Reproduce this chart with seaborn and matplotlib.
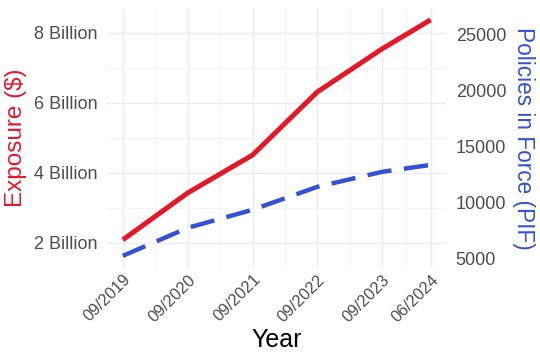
import matplotlib
matplotlib.use("Agg")
import matplotlib.pyplot as plt
import matplotlib.dates as mdates
import matplotlib.transforms as mtransforms
from matplotlib.ticker import FixedLocator, FuncFormatter
import seaborn as sns
import pandas as pd
import numpy as np

# ---- data ----
period_labels = ["09/2019", "09/2020", "09/2021", "09/2022", "09/2023", "06/2024"]
exposure_billion = [2.09, 3.43, 4.51, 6.31, 7.54, 8.37]
policies_in_force = [5270, 7770, 9380, 11430, 12770, 13390]
left_ticks = [2, 4, 6, 8]
right_ticks = [5000, 10000, 15000, 20000, 25000]

RED = "#E3192A"
BLUE = "#3550D4"

dates = pd.to_datetime(period_labels, format="%m/%Y")
df = pd.DataFrame({"date": dates, "exposure": exposure_billion, "pif": policies_in_force})

sns.set_style("white")
plt.rcParams["font.family"] = ["Liberation Sans", "DejaVu Sans"]

fig = plt.figure(figsize=(5.4, 3.6), dpi=100)
ax = fig.add_axes([0.199, 0.256, 0.627, 0.722])
ax2 = ax.twinx()

sns.lineplot(data=df, x="date", y="exposure", ax=ax, color=RED, linewidth=3.6,
             solid_capstyle="butt")
sns.lineplot(data=df, x="date", y="pif", ax=ax2, color=BLUE, linewidth=3.2,
             dashes=False)
ax2.lines[0].set_dashes((5.5, 2.8))
ax2.lines[0].set_dash_capstyle("butt")

xnum = mdates.date2num(dates)
span = xnum[-1] - xnum[0]
ax.set_xlim(xnum[0] - 0.05 * span, xnum[-1] + 0.05 * span)
ax.xaxis.set_major_locator(FixedLocator(xnum))
ax.set_xticklabels(period_labels, rotation=45, ha="right", rotation_mode="anchor",
                   fontsize=11.8, color="#4D4D4D")
ax.xaxis.set_minor_locator(FixedLocator((xnum[:-1] + xnum[1:]) / 2))
offset = mtransforms.ScaledTranslation(6 / 100, 0, fig.dpi_scale_trans)
for lbl in ax.get_xticklabels():
    lbl.set_transform(lbl.get_transform() + offset)

ax.set_ylim(1.29, 8.71)
ax.yaxis.set_major_locator(FixedLocator(left_ticks))
ax.yaxis.set_minor_locator(FixedLocator([3, 5, 7]))
ax.yaxis.set_major_formatter(FuncFormatter(lambda v, p: f"{int(v)} Billion"))
ax2.set_ylim(4196, 27411)
ax2.yaxis.set_major_locator(FixedLocator(right_ticks))

ax.grid(True, which="major", color="#EBEBEB", linewidth=1.0)
ax.grid(True, which="minor", color="#F3F3F3", linewidth=0.7)
ax.set_axisbelow(True)
ax2.grid(False)

for a in (ax, ax2):
    for s in a.spines.values():
        s.set_visible(False)
    a.tick_params(axis="both", which="both", length=0)

ax.tick_params(axis="y", labelsize=13, labelcolor="#4D4D4D", pad=7)
ax.tick_params(axis="x", pad=3)
ax2.tick_params(axis="y", labelsize=13, labelcolor="#4D4D4D", pad=7)

ax.set_xlabel("Year", fontsize=18, color="black", labelpad=2)
ax.set_ylabel("Exposure ($)", fontsize=17.5, color=RED, labelpad=5)
ax2.set_ylabel("Policies in Force (PIF)", fontsize=16.3, color=BLUE, rotation=270,
               labelpad=21)

fig.savefig("out.png", dpi=100)
